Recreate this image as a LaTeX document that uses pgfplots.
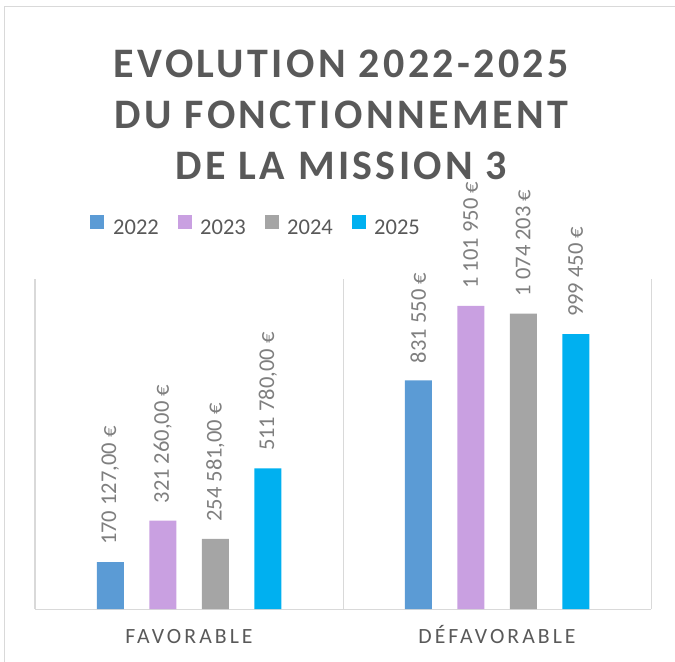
\documentclass[border=0pt]{standalone}
\usepackage{fontspec}
\setmainfont{Carlito}
\newfontfamily\titlefont[LetterSpace=8]{Carlito}
\newfontfamily\catfont[LetterSpace=14]{Carlito}
\usepackage{pgfplots}
\pgfplotsset{compat=1.18}
\definecolor{c22}{HTML}{5B9BD5}
\definecolor{c23}{HTML}{C9A0E1}
\definecolor{c24}{HTML}{A5A5A5}
\definecolor{c25}{HTML}{00B0F0}
\definecolor{tgray}{HTML}{595959}
\definecolor{lblgray}{HTML}{7F7F7F}
\definecolor{gridgray}{HTML}{D9D9D9}
\begin{document}
\begin{tikzpicture}
\useasboundingbox (0,0) rectangle (506.25pt,495.75pt);
\draw[gridgray, line width=0.75pt] (3pt,-2pt) -- (3pt,490.5pt) -- (510pt,490.5pt);
\node[anchor=north, align=center, text=tgray, font=\titlefont\bfseries\fontsize{31.5}{38.25}\selectfont]
  at (256pt,462pt) {EVOLUTION 2022-2025\\DU FONCTIONNEMENT\\DE LA MISSION 3};
\begin{axis}[
  scale only axis, width=462pt, height=247.5pt,
  at={(26.25pt,39pt)}, anchor=south west,
  ybar=19.125pt, bar width=20.25pt,
  xmin=-0.5, xmax=1.5, ymin=0, ymax=1200000,
  axis line style={draw=none},
  ytick=\empty,
  xtick={0,1}, xticklabels={FAVORABLE,DÉFAVORABLE},
  major tick length=0pt,
  xticklabel style={font=\catfont\fontsize{16.3}{19}\selectfont, text=tgray, anchor=base, yshift=-25.5pt},
  extra x ticks={-0.5,0.5,1.5}, extra x tick labels={}, extra x tick style={grid=major},
  extra y ticks={0}, extra y tick labels={}, extra y tick style={grid=major},
  major grid style={draw=gridgray, line width=0.75pt},
  clip=false,
  point meta=explicit symbolic,
  nodes near coords,
  nodes near coords style={rotate=90, anchor=west, inner sep=0pt, xshift=12.75pt, font=\fontsize{16.9}{20}\selectfont, text=lblgray},
  legend columns=4,
  legend image code/.code={\fill[#1,draw=none] (0pt,0pt) rectangle (10.5pt,10.5pt);},
  legend style={draw=none, fill=none, at={(0.3596,1.1576)}, anchor=center,
    font=\fontsize{16.9}{20}\selectfont, text=tgray, inner sep=0pt,
    /tikz/every odd column/.append style={column sep=4.5pt},
    /tikz/every even column/.append style={column sep=12pt}},
]
\addplot[fill=c22, draw=none] coordinates {(0,170127) [170 127,00 €] (1,831550) [831 550 €]};
\addplot[fill=c23, draw=none] coordinates {(0,321260) [321 260,00 €] (1,1101950) [1 101 950 €]};
\addplot[fill=c24, draw=none] coordinates {(0,254581) [254 581,00 €] (1,1074203) [1 074 203 €]};
\addplot[fill=c25, draw=none] coordinates {(0,511780) [511 780,00 €] (1,999450) [999 450 €]};
\legend{2022,2023,2024,2025}
\end{axis}
\end{tikzpicture}
\end{document}
